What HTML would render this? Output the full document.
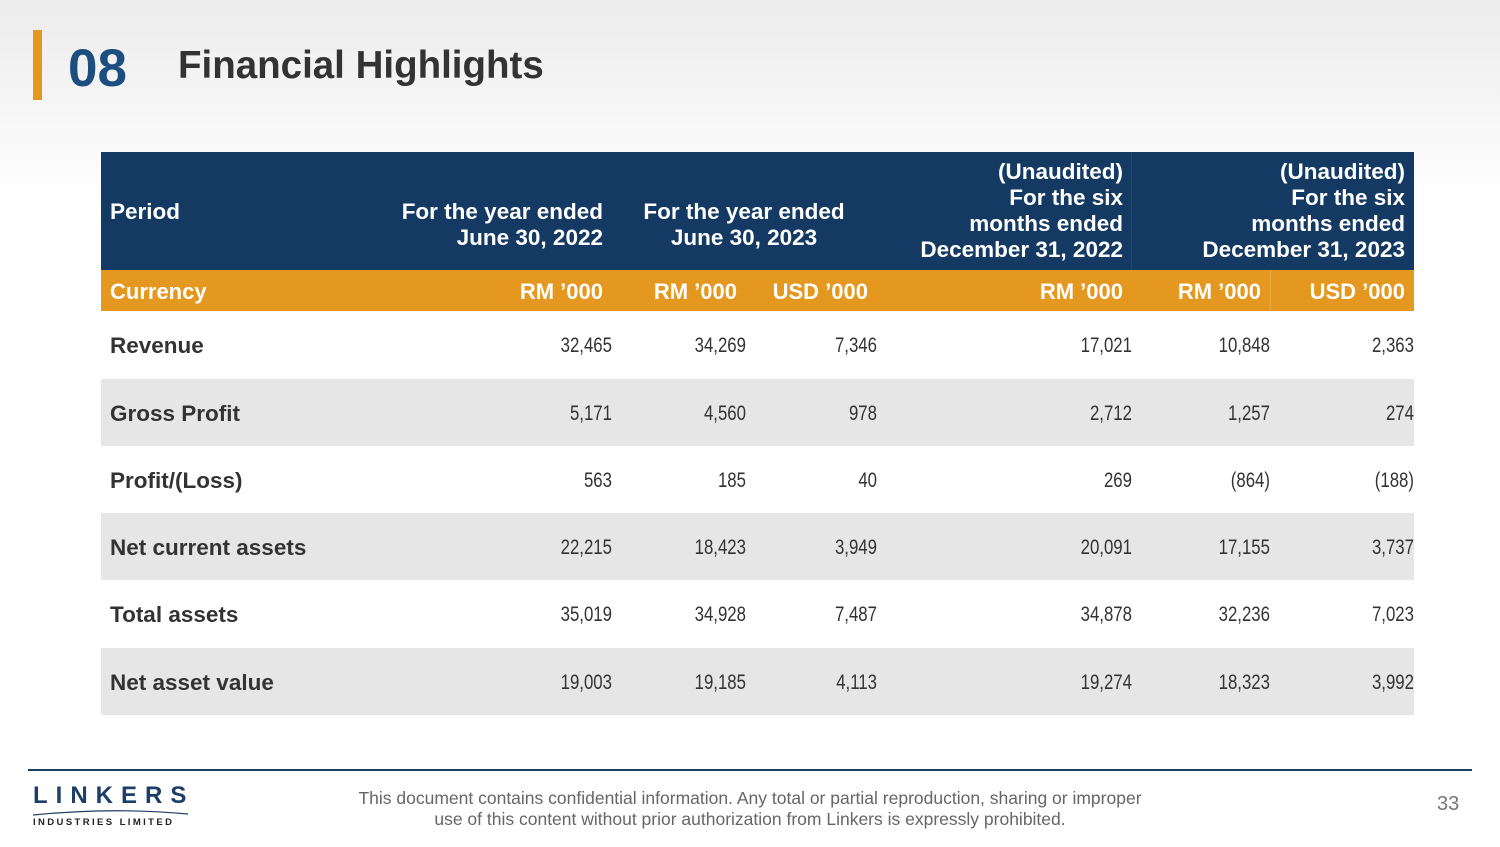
<!DOCTYPE html>
<html><head><meta charset="utf-8"><style>
body{margin:0;width:1500px;height:847px;position:relative;overflow:hidden;font-family:"Liberation Sans",sans-serif;background:linear-gradient(#ececec 0,#f7f7f7 120px,#fff 200px);}
.a{position:absolute;}
.hd{color:#fff;font-weight:bold;font-size:22.5px;line-height:26px;text-align:right;}
.cur{color:#fff;font-weight:bold;font-size:22px;top:279px;text-align:right;}
.row{position:absolute;left:101px;width:1313px;height:67px;}
.lbl{position:absolute;left:9px;top:22px;font-weight:bold;font-size:22.5px;color:#333;}
.v{position:absolute;top:23px;font-size:21px;color:#333;text-align:right;width:120px;transform:scaleX(0.8);transform-origin:right;}
</style></head><body>
<div class="a" style="left:33px;top:30px;width:9px;height:70px;background:#e5981f"></div>
<div class="a" style="left:68px;top:38px;font-size:53px;font-weight:bold;color:#1d4e80">08</div>
<div class="a" style="left:178px;top:44px;font-size:38.5px;font-weight:bold;color:#333">Financial Highlights</div>

<div class="a" style="left:101px;top:152px;width:1313px;height:118px;background:#143a63"></div>
<div class="a" style="left:1131px;top:152px;width:1px;height:118px;background:#1e4570"></div>
<div class="a hd" style="left:110px;top:199px;text-align:left">Period</div>
<div class="a hd" style="left:303px;top:199px;width:300px">For the year ended<br>June 30, 2022</div>
<div class="a hd" style="left:594px;top:199px;width:300px;text-align:center">For the year ended<br>June 30, 2023</div>
<div class="a hd" style="left:823px;top:159px;width:300px">(Unaudited)<br>For the six<br>months ended<br>December 31, 2022</div>
<div class="a hd" style="left:1105px;top:159px;width:300px">(Unaudited)<br>For the six<br>months ended<br>December 31, 2023</div>

<div class="a" style="left:101px;top:270px;width:1313px;height:41px;background:#e5981f"></div>
<div class="a" style="left:1270px;top:270px;width:1px;height:41px;background:#eaa83f"></div>
<div class="a cur" style="left:110px">Currency</div>
<div class="a cur" style="left:403px;width:200px">RM ’000</div>
<div class="a cur" style="left:537px;width:200px">RM ’000</div>
<div class="a cur" style="left:668px;width:200px">USD ’000</div>
<div class="a cur" style="left:923px;width:200px">RM ’000</div>
<div class="a cur" style="left:1061px;width:200px">RM ’000</div>
<div class="a cur" style="left:1205px;width:200px">USD ’000</div>

<div id="rows"></div>

<div class="a" style="left:28px;top:769px;width:1444px;height:2px;background:#1d3e66"></div>
<div class="a" style="left:33px;top:783px;width:160px;height:50px;white-space:nowrap">
<div style="font-size:24px;font-weight:bold;color:#1d3e66;letter-spacing:8px;line-height:26px">LINKERS</div>
<svg width="160" height="8" style="display:block"><path d="M0 6 Q80 -2 155 5" stroke="#1d3e66" stroke-width="1.2" fill="none"/></svg>
<div style="font-size:9.5px;font-weight:bold;color:#222;letter-spacing:2.4px">INDUSTRIES LIMITED</div>
</div>
<div class="a" style="left:300px;top:788px;width:900px;text-align:center;font-size:17.5px;line-height:21px;color:#666">This document contains confidential information. Any total or partial reproduction, sharing or improper<br>use of this content without prior authorization from Linkers is expressly prohibited.</div>
<div class="a" style="left:1437px;top:793px;font-size:20px;color:#777">33</div>

<script>
const labels=["Revenue","Gross Profit","Profit/(Loss)","Net current assets","Total assets","Net asset value"];
const fy2022=["32,465","5,171","563","22,215","35,019","19,003"];
const fy2023rm=["34,269","4,560","185","18,423","34,928","19,185"];
const fy2023usd=["7,346","978","40","3,949","7,487","4,113"];
const h2022=["17,021","2,712","269","20,091","34,878","19,274"];
const h2023rm=["10,848","1,257","(864)","17,155","32,236","18,323"];
const h2023usd=["2,363","274","(188)","3,737","7,023","3,992"];
const cols=[fy2022,fy2023rm,fy2023usd,h2022,h2023rm,h2023usd];
const rights=[612,746,877,1132,1270,1414];
const tops=[311,379,446,513,580,648];
const c=document.getElementById('rows');
labels.forEach((l,i)=>{
 const r=document.createElement('div');r.className='row';
 
 
 r.style.top=tops[i]+'px';r.style.height=(i==0||i==3?68:67)+'px';
 r.style.background=i%2?'#e6e6e6':'#fff';
 const lb=document.createElement('div');lb.className='lbl';lb.textContent=l;
 
 
 r.appendChild(lb);
 cols.forEach((col,j)=>{
  const v=document.createElement('div');v.className='v';v.textContent=col[i];
  
  
  v.style.left=(rights[j]-101-120)+'px';
  r.appendChild(v);
 });
 c.appendChild(r);
});
</script>
</body></html>
